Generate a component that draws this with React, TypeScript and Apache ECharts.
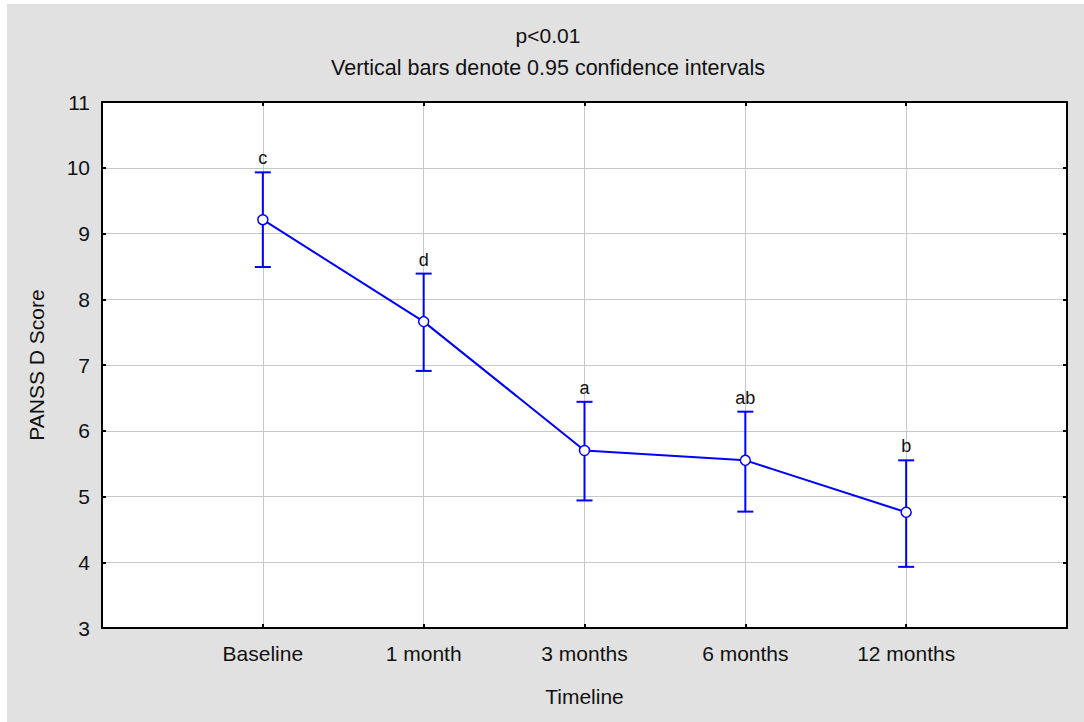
import React, { useEffect, useRef } from "react";
import * as echarts from "echarts";

const categories = ["Baseline", "1 month", "3 months", "6 months", "12 months"];
const means = [9.21, 7.66, 5.7, 5.55, 4.76];
const lower = [8.49, 6.91, 4.94, 4.77, 3.93];
const upper = [9.93, 8.39, 6.44, 6.29, 5.55];
const letters = ["c", "d", "a", "ab", "b"];
const yTicks = [3, 4, 5, 6, 7, 8, 9, 10, 11];

const FONT = "'Liberation Sans', Arial, sans-serif";
const BLUE = "#0000ff";

export default function App() {
  const ref = useRef<HTMLDivElement>(null);
  useEffect(() => {
    if (!ref.current) return;
    const chart = echarts.init(ref.current, undefined, { renderer: "svg" });
    const axisData = ["", ...categories, ""];
    const axisLine = { show: true, lineStyle: { color: "#000", width: 2 } };
    chart.setOption({
      animation: false,
      backgroundColor: "#e1e1e1",
      textStyle: { fontFamily: FONT },
      graphic: [
        {
          type: "text",
          x: 541,
          y: 31,
          style: { text: "p<0.01", font: `21px ${FONT}`, fill: "#111", textAlign: "center", textVerticalAlign: "middle" },
        },
        {
          type: "text",
          x: 541,
          y: 64,
          style: {
            text: "Vertical bars denote 0.95 confidence intervals",
            font: `21.5px ${FONT}`,
            fill: "#111",
            textAlign: "center",
            textVerticalAlign: "middle",
          },
        },
      ],
      grid: {
        left: 95,
        top: 98,
        right: 17,
        bottom: 94,
        containLabel: false,
        show: true,
        backgroundColor: "#ffffff",
        borderWidth: 0,
      },
      xAxis: [
        {
          type: "category",
          data: axisData,
          boundaryGap: false,
          name: "Timeline",
          nameLocation: "middle",
          nameGap: 58,
          nameTextStyle: { fontSize: 21, color: "#111", fontFamily: FONT },
          axisLine,
          axisTick: { show: true, inside: true, length: 4, lineStyle: { color: "#000", width: 2 }, interval: 0 },
          axisLabel: { fontSize: 21, color: "#111", margin: 15, interval: 0, fontFamily: FONT },
          splitLine: { show: true, interval: 0, lineStyle: { color: "#c8c8c8", width: 1 } },
        },
        {
          type: "category",
          data: axisData,
          boundaryGap: false,
          position: "top",
          axisLine,
          axisTick: { show: true, inside: true, length: 4, lineStyle: { color: "#000", width: 2 }, interval: 0 },
          axisLabel: { show: false },
          splitLine: { show: false },
        },
      ],
      yAxis: [
        {
          type: "value",
          min: yTicks[0],
          max: yTicks[yTicks.length - 1],
          interval: 1,
          name: "PANSS D Score",
          nameLocation: "middle",
          nameGap: 55,
          nameTextStyle: { fontSize: 21, color: "#111", fontFamily: FONT },
          axisLine,
          axisTick: { show: true, inside: true, length: 4, lineStyle: { color: "#000", width: 2 } },
          axisLabel: { fontSize: 21, color: "#111", margin: 12, fontFamily: FONT },
          splitLine: { show: true, lineStyle: { color: "#c8c8c8", width: 1 } },
        },
        {
          type: "value",
          min: yTicks[0],
          max: yTicks[yTicks.length - 1],
          interval: 1,
          position: "right",
          axisLine,
          axisTick: { show: true, inside: true, length: 4, lineStyle: { color: "#000", width: 2 } },
          axisLabel: { show: false },
          splitLine: { show: false },
        },
      ],
      series: [
        {
          type: "custom",
          z: 2,
          data: categories.map((c, i) => [c, lower[i], upper[i]]),
          renderItem: (params: any, api: any) => {
            const xi = api.value(0);
            const lo = api.coord([xi, api.value(1)]);
            const hi = api.coord([xi, api.value(2)]);
            const hw = 8;
            const st = { stroke: BLUE, lineWidth: 2 };
            return {
              type: "group",
              children: [
                { type: "line", shape: { x1: lo[0], y1: lo[1], x2: hi[0], y2: hi[1] }, style: st },
                { type: "line", shape: { x1: hi[0] - hw, y1: hi[1], x2: hi[0] + hw, y2: hi[1] }, style: st },
                { type: "line", shape: { x1: lo[0] - hw, y1: lo[1], x2: lo[0] + hw, y2: lo[1] }, style: st },
                {
                  type: "text",
                  x: hi[0],
                  y: hi[1] - 5,
                  style: {
                    text: letters[params.dataIndex],
                    font: `18px ${FONT}`,
                    fill: "#111",
                    textAlign: "center",
                    textVerticalAlign: "bottom",
                  },
                },
              ],
            };
          },
        },
        {
          type: "line",
          z: 3,
          data: categories.map((c, i) => [c, means[i]]),
          symbol: "circle",
          symbolSize: 10,
          lineStyle: { color: BLUE, width: 2 },
          itemStyle: { color: "#ffffff", borderColor: BLUE, borderWidth: 1.5 },
        },
      ],
    });
    return () => chart.dispose();
  }, []);
  return (
    <div
      ref={ref}
      style={{ position: "fixed", left: 7, top: 4, width: 1077, height: 718 }}
    />
  );
}
